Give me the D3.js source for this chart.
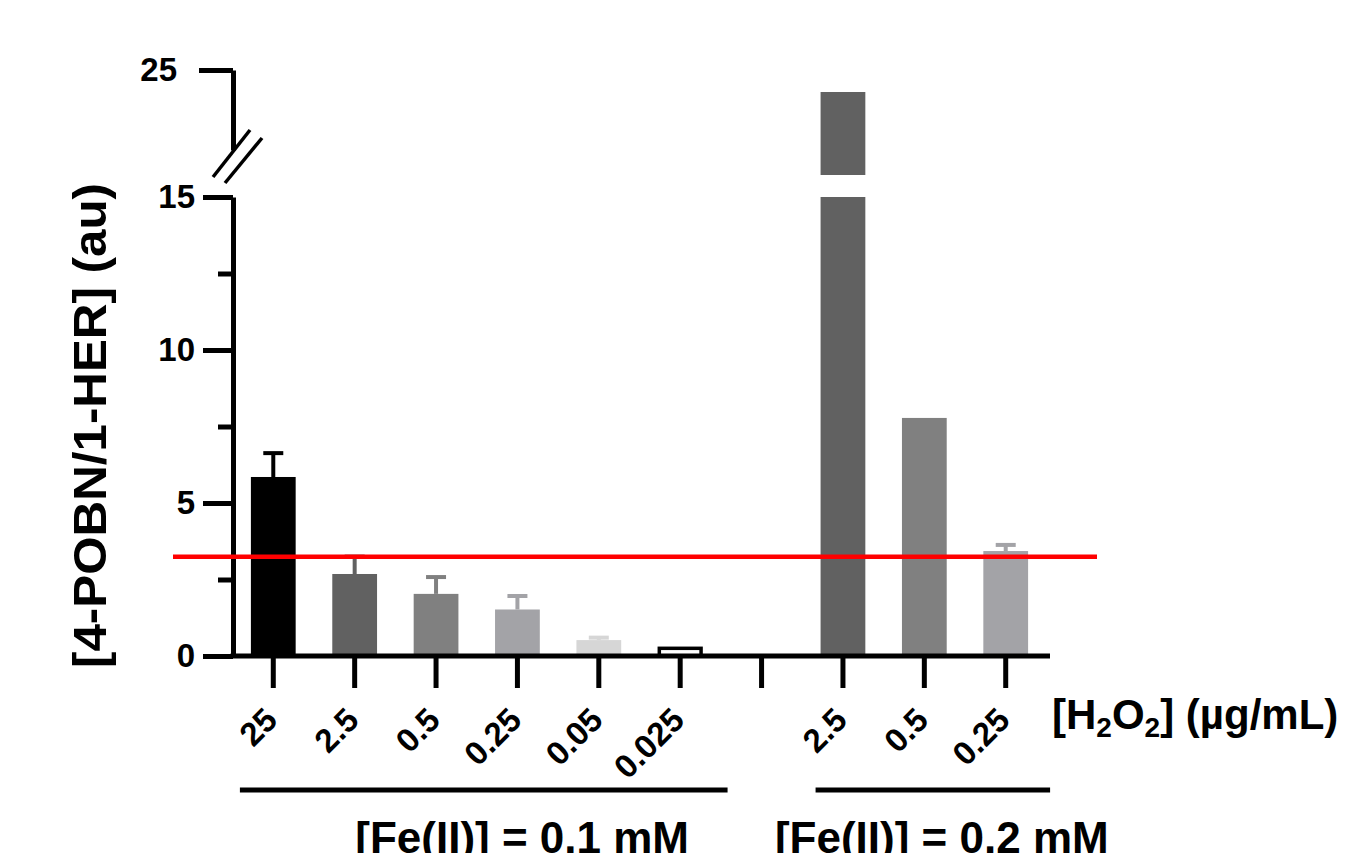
<!DOCTYPE html>
<html>
<head>
<meta charset="utf-8">
<script src="https://cdn.jsdelivr.net/npm/d3@7"></script>
<style>
  html, body { margin: 0; padding: 0; background: #fff; }
  svg { display: block; font-family: "Liberation Sans", Arial, sans-serif; font-weight: bold; }
</style>
</head>
<body>
<svg id="chart" width="1355" height="853"></svg>
<script>
// ---------- data ----------
const slots      = ["a25", "a2.5", "a0.5", "a0.25", "a0.05", "a0.025", "gap", "b2.5", "b0.5", "b0.25"];
const tickLabels = ["25", "2.5", "0.5", "0.25", "0.05", "0.025", "", "2.5", "0.5", "0.25"];
const means      = [5.85, 2.68, 2.03, 1.52, 0.52, 0.30, null, 23.9, 7.78, 3.43];
const errors     = [0.78, 0.57, 0.55, 0.44, 0.08, 0.0, null, 0.0, 0.0, 0.20];
const threshold  = 3.24;
const lowerTicks = [0, 5, 10, 15];
const lowerMinor = [2.5, 7.5, 12.5];
const upperTicks = [25];
const groupLabels = ["[Fe(II)] = 0.1 mM", "[Fe(II)] = 0.2 mM"];
const groupMembers = [["a25", "a0.025"], ["b2.5", "b0.25"]];

// ---------- styles ----------
const barFill   = ["#000000", "#616161", "#808080", "#a3a3a7", "#d6d6d6", "#ffffff", "none", "#616161", "#808080", "#a3a3a7"];
const barStroke = ["none", "none", "none", "none", "none", "#000000", "none", "none", "none", "none"];
const errColor  = ["#000000", "#616161", "#808080", "#a3a3a7", "#d6d6d6", "#000000", "none", "#616161", "#808080", "#a3a3a7"];
const FONT = "'Liberation Sans', Arial, sans-serif";

const svg = d3.select("#chart");

// ---------- scales ----------
const axisX = 233;
const x = d3.scaleBand().domain(slots).range([axisX, 1046]).paddingInner(0.45).paddingOuter(0.22);
const yLow = d3.scaleLinear().domain([0, 15]).range([656, 197]);
const yUp  = d3.scaleLinear().domain([21, 25]).range([150, 70]);
const breakGap = 22;
const y0 = yLow(0);

// ---------- bars ----------
const data = slots.map((s, i) => ({ s, i, m: means[i], e: errors[i] })).filter(d => d.m !== null);

const gBars = svg.append("g");
data.forEach(d => {
  const bx = x(d.s), bw = x.bandwidth();
  if (d.m <= 15) {
    const inset = barStroke[d.i] !== "none" ? 1.5 : 0;
    gBars.append("rect")
      .attr("x", bx + inset).attr("width", bw - 2 * inset)
      .attr("y", yLow(d.m) + inset).attr("height", y0 - yLow(d.m) - inset)
      .attr("fill", barFill[d.i])
      .attr("stroke", barStroke[d.i]).attr("stroke-width", 3.5);
  } else {
    gBars.append("rect")
      .attr("x", bx).attr("width", bw)
      .attr("y", yLow(15)).attr("height", y0 - yLow(15))
      .attr("fill", barFill[d.i]);
    const upBottom = yLow(15) - breakGap;
    gBars.append("rect")
      .attr("x", bx).attr("width", bw)
      .attr("y", yUp(d.m)).attr("height", upBottom - yUp(d.m))
      .attr("fill", barFill[d.i]);
  }
  if (d.e > 0) {
    const cx = bx + bw / 2;
    const top = yLow(d.m + d.e);
    gBars.append("line")
      .attr("x1", cx).attr("x2", cx).attr("y1", yLow(d.m)).attr("y2", top)
      .attr("stroke", errColor[d.i]).attr("stroke-width", 4);
    gBars.append("line")
      .attr("x1", cx - 10).attr("x2", cx + 10).attr("y1", top).attr("y2", top)
      .attr("stroke", errColor[d.i]).attr("stroke-width", 4);
  }
});

// ---------- y axis (lower segment) ----------
const gyLow = svg.append("g").attr("transform", `translate(${axisX},0)`)
  .call(d3.axisLeft(yLow).tickValues(lowerTicks).tickSize(30).tickPadding(8).tickSizeOuter(0).tickFormat(d3.format("d")));
gyLow.select(".domain").attr("stroke", "#000").attr("stroke-width", 5);
gyLow.selectAll(".tick line").attr("stroke", "#000").attr("stroke-width", 5);
gyLow.selectAll(".tick text").attr("font-size", 33).attr("font-weight", "bold")
  .attr("font-family", FONT).attr("fill", "#000");

const gyMinor = svg.append("g").attr("transform", `translate(${axisX},0)`)
  .call(d3.axisLeft(yLow).tickValues(lowerMinor).tickSize(15).tickFormat(""));
gyMinor.select(".domain").remove();
gyMinor.selectAll(".tick line").attr("stroke", "#000").attr("stroke-width", 5);

// ---------- y axis (upper segment) ----------
const gyUp = svg.append("g").attr("transform", `translate(${axisX},0)`)
  .call(d3.axisLeft(yUp).tickValues(upperTicks).tickSize(34).tickPadding(22).tickSizeOuter(0).tickFormat(d3.format("d")));
gyUp.select(".domain").attr("stroke", "#000").attr("stroke-width", 5);
gyUp.selectAll(".tick line").attr("stroke", "#000").attr("stroke-width", 5);
gyUp.selectAll(".tick text").attr("font-size", 33).attr("font-weight", "bold")
  .attr("font-family", FONT).attr("fill", "#000");

// break marks
const brk = svg.append("g").attr("stroke", "#000").attr("stroke-width", 3.5);
brk.append("line").attr("x1", axisX - 20).attr("y1", yUp(21) + 27).attr("x2", axisX + 17).attr("y2", yUp(21) - 20);
brk.append("line").attr("x1", axisX - 8).attr("y1", yUp(21) + 33).attr("x2", axisX + 29).attr("y2", yUp(21) - 12);

// ---------- x axis ----------
const gx = svg.append("g").attr("transform", `translate(0,${y0})`)
  .call(d3.axisBottom(x).tickSize(32).tickFormat("").tickSizeOuter(0));
gx.select(".domain").remove();
gx.selectAll(".tick line").attr("stroke", "#000").attr("stroke-width", 5);
svg.append("line").attr("x1", x.range()[0] - 2.5).attr("x2", x.range()[1] + 4)
  .attr("y1", y0).attr("y2", y0).attr("stroke", "#000").attr("stroke-width", 5);

// rotated tick labels
svg.append("g").selectAll("text").data(slots).join("text")
  .attr("transform", (s) => `translate(${x(s) + x.bandwidth() / 2 + 6},${722}) rotate(-45)`)
  .attr("text-anchor", "end")
  .attr("font-size", 33)
  .attr("fill", "#000")
  .text((s, i) => tickLabels[i]);

// H2O2 axis title
const h2 = svg.append("text").attr("x", x.range()[1] + 6).attr("y", 729)
  .attr("font-size", 42).attr("fill", "#000");
h2.append("tspan").text("[H");
h2.append("tspan").attr("font-size", 28).attr("dy", 8).text("2");
h2.append("tspan").attr("dy", -8).text("O");
h2.append("tspan").attr("font-size", 28).attr("dy", 8).text("2");
h2.append("tspan").attr("dy", -8).text("] (\u00b5g/mL)");

// ---------- threshold line ----------
svg.append("line")
  .attr("x1", 173).attr("x2", 1097)
  .attr("y1", yLow(threshold)).attr("y2", yLow(threshold))
  .attr("stroke", "#ff0000").attr("stroke-width", 4.5);

// ---------- group brackets & labels ----------
const gline = svg.append("g").attr("stroke", "#000").attr("stroke-width", 5);
gline.append("line").attr("x1", x(groupMembers[0][0]) - 11).attr("x2", x(groupMembers[0][1]) + x.bandwidth() + 25)
  .attr("y1", 790).attr("y2", 790);
gline.append("line").attr("x1", x(groupMembers[1][0]) - 5).attr("x2", x(groupMembers[1][1]) + x.bandwidth() + 22)
  .attr("y1", 790).attr("y2", 790);

svg.append("text").attr("x", x(groupMembers[0][0]) + x.bandwidth() / 2 + 82).attr("y", 853)
  .attr("font-size", 44).attr("fill", "#000").text(groupLabels[0]);
svg.append("text").attr("x", x(groupMembers[1][0]) + x.bandwidth() / 2 - 68).attr("y", 853)
  .attr("font-size", 44).attr("fill", "#000").text(groupLabels[1]);

// ---------- y title ----------
svg.append("text")
  .attr("transform", `translate(106,${(183 + 668) / 2}) rotate(-90)`)
  .attr("text-anchor", "middle")
  .attr("font-size", 47)
  .attr("textLength", 485).attr("lengthAdjust", "spacingAndGlyphs")
  .attr("fill", "#000")
  .text("[4-POBN/1-HER] (au)");
</script>
</body>
</html>
